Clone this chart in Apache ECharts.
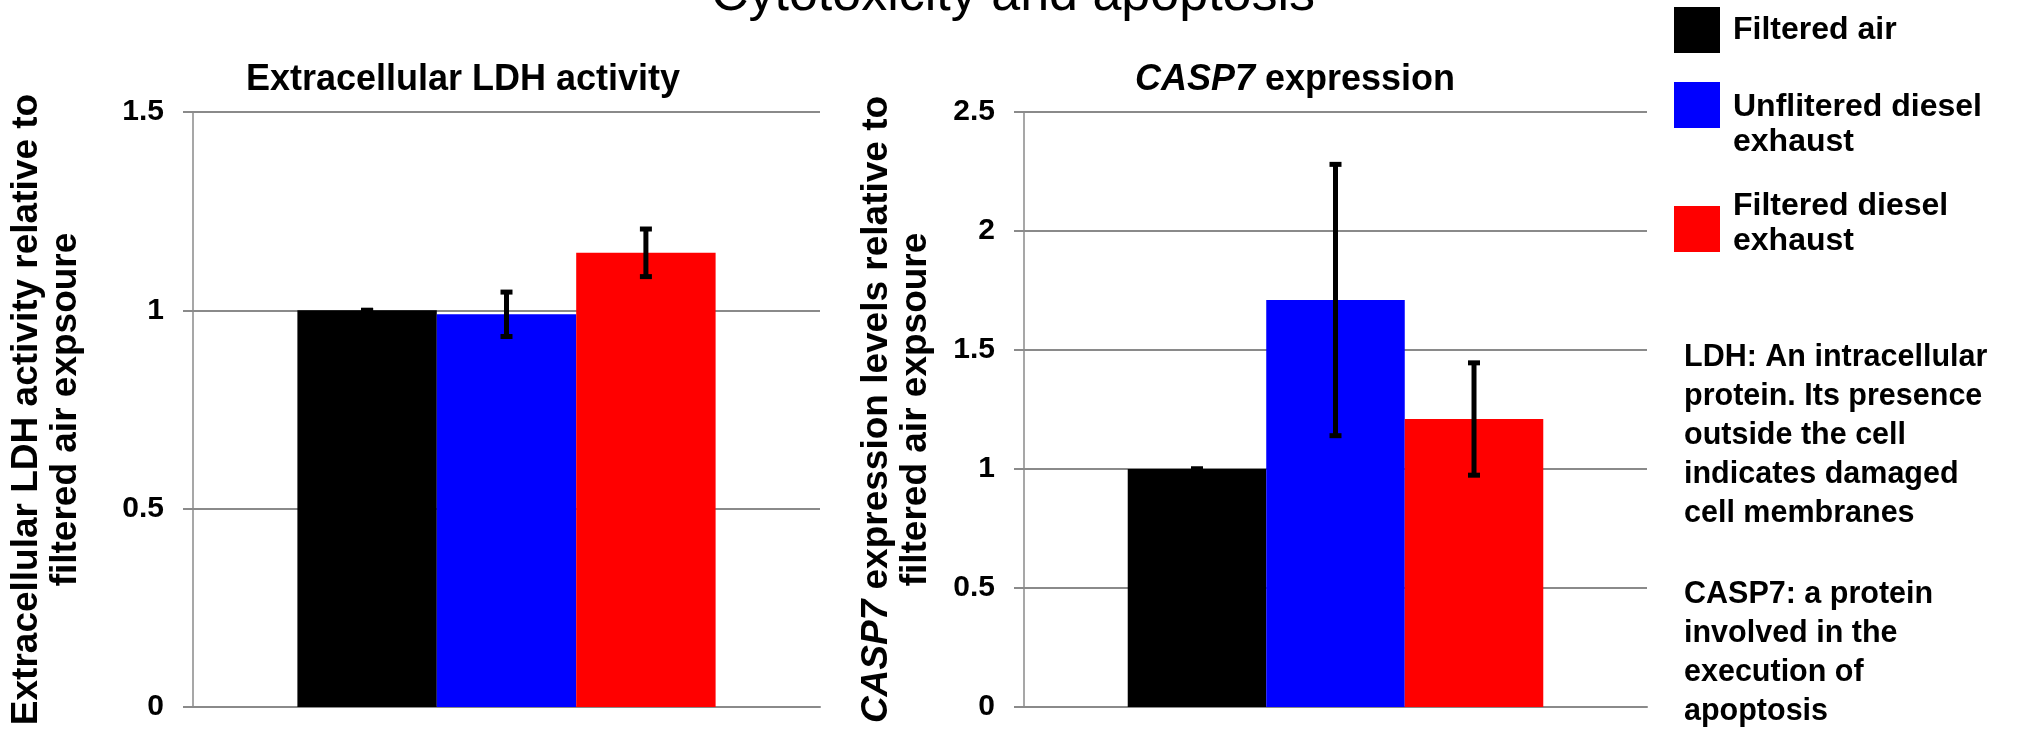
<!DOCTYPE html>
<html>
<head>
<meta charset="utf-8">
<title>Cytotoxicity and apoptosis</title>
<script src="https://cdn.jsdelivr.net/npm/echarts/dist/echarts.min.js"></script>
<style>
  html, body { margin: 0; padding: 0; background: #ffffff; }
  #chart { width: 2017px; height: 734px; }
</style>
</head>
<body>
<div id="chart"></div>
<script>
// Exposure groups, shared by both panels
const groups = ['Filtered air', 'Unflitered diesel exhaust', 'Filtered diesel exhaust'];
const groupColors = ['#000000', '#0000ff', '#ff0000'];

// Extracellular LDH activity (relative to filtered air), mean and error
const ldhMeans = [1.0, 0.99, 1.145];
const ldhErrors = [0, 0.056, 0.06];

// CASP7 expression (relative to filtered air), mean and error
const casp7Means = [1.0, 1.71, 1.21];
const casp7Errors = [0, 0.57, 0.236];

// Value axes: [max, step]
const ldhAxis = [1.5, 0.5];
const casp7Axis = [2.5, 0.5];

const FONT = '"Liberation Sans", Arial, sans-serif';
const GRID_GREY = '#8a8a8a';
const CATEGORY_GAP = 0.333;

const chart = echarts.init(document.getElementById('chart'), null, { renderer: 'canvas' });

function valueAxis(gridIndex, axis, name, nameGap) {
  return {
    type: 'value',
    gridIndex: gridIndex,
    min: 0,
    max: axis[0],
    interval: axis[1],
    name: name,
    nameLocation: 'middle',
    nameRotate: 90,
    nameGap: nameGap,
    nameTextStyle: {
      fontFamily: FONT, fontSize: 37, fontWeight: 'bold', color: '#000', lineHeight: 39,
      rich: { i: { fontFamily: FONT, fontSize: 37, fontWeight: 'bold', fontStyle: 'italic', color: '#000', lineHeight: 39 } }
    },
    axisLine: { show: true, lineStyle: { color: GRID_GREY, width: 1.5 } },
    axisTick: { show: true, length: 10, lineStyle: { color: GRID_GREY, width: 2 } },
    axisLabel: { margin: 29, fontFamily: FONT, fontSize: 30, fontWeight: 'bold', color: '#000' },
    splitLine: { show: true, lineStyle: { color: GRID_GREY, width: 2 } }
  };
}

function categoryAxis(gridIndex) {
  return {
    type: 'category',
    gridIndex: gridIndex,
    data: [''],
    axisLine: { show: true, lineStyle: { color: GRID_GREY, width: 2 } },
    axisTick: { show: false },
    axisLabel: { show: false }
  };
}

function barSeries(axisIndex, means) {
  return groups.map(function (name, k) {
    return {
      type: 'bar',
      name: name,
      xAxisIndex: axisIndex,
      yAxisIndex: axisIndex,
      data: [means[k]],
      barGap: '0%',
      barCategoryGap: (CATEGORY_GAP * 100) + '%',
      itemStyle: { color: groupColors[k] },
      emphasis: { disabled: true }
    };
  });
}

// Error bar glyph: vertical stroke with caps, centred on each bar of the group
function renderErrorBar(params, api) {
  const cat = api.value(0);
  const mean = api.value(1);
  const err = api.value(2);
  const k = api.value(3);
  const band = api.size([1, 0])[0];
  const barW = band * (1 - CATEGORY_GAP) / groups.length;
  const x = api.coord([cat, mean])[0] + (k - (groups.length - 1) / 2) * barW;
  const yTop = api.coord([cat, mean + err])[1];
  const yBot = api.coord([cat, mean - err])[1];
  const capHalf = 6;
  const style = { stroke: '#000', lineWidth: 5, fill: null };
  return {
    type: 'group',
    children: [
      { type: 'line', shape: { x1: x, y1: yTop, x2: x, y2: yBot }, style: style },
      { type: 'line', shape: { x1: x - capHalf, y1: yTop, x2: x + capHalf, y2: yTop }, style: style },
      { type: 'line', shape: { x1: x - capHalf, y1: yBot, x2: x + capHalf, y2: yBot }, style: style }
    ]
  };
}

function errorSeries(axisIndex, means, errors) {
  return {
    type: 'custom',
    xAxisIndex: axisIndex,
    yAxisIndex: axisIndex,
    z: 5,
    silent: true,
    renderItem: renderErrorBar,
    encode: { x: 0, y: 1 },
    data: means.map(function (m, k) { return [0, m, errors[k], k]; })
  };
}

// Legend swatches and side notes
const legendLayout = [
  { top: 7, textTop: 13, label: 'Filtered air' },
  { top: 82, textTop: 90, label: 'Unflitered diesel\nexhaust' },
  { top: 206, textTop: 189, label: 'Filtered diesel\nexhaust' }
];
const graphics = [];
legendLayout.forEach(function (item, k) {
  graphics.push({
    type: 'rect', left: 1674, top: item.top,
    shape: { width: 46, height: 46 },
    style: { fill: groupColors[k] }
  });
  graphics.push({
    type: 'text', x: 1733, y: item.textTop,
    style: {
      text: item.label, font: 'bold 32px ' + FONT, fill: '#000',
      lineHeight: 35, verticalAlign: 'top', align: 'left'
    }
  });
});
graphics.push({
  type: 'text', x: 1684, y: 338,
  style: {
    text: 'LDH: An intracellular\nprotein. Its presence\noutside the cell\nindicates damaged\ncell membranes',
    font: 'bold 30.5px ' + FONT, fill: '#000', lineHeight: 39, verticalAlign: 'top', align: 'left'
  }
});
graphics.push({
  type: 'text', x: 1684, y: 575,
  style: {
    text: 'CASP7: a protein\ninvolved in the\nexecution of\napoptosis',
    font: 'bold 30.5px ' + FONT, fill: '#000', lineHeight: 39, verticalAlign: 'top', align: 'left'
  }
});

const option = {
  animation: false,
  backgroundColor: '#ffffff',
  title: [
    {
      text: 'Cytotoxicity and apoptosis',
      left: 1013, top: -30, padding: 0, textAlign: 'center',
      textStyle: { fontFamily: FONT, fontSize: 52, fontWeight: 'normal', color: '#000' }
    },
    {
      text: 'Extracellular LDH activity',
      left: 463, top: 62, padding: 0, textAlign: 'center',
      textStyle: { fontFamily: FONT, fontSize: 36, fontWeight: 'bold', color: '#000' }
    },
    {
      text: '{i|CASP7} expression',
      left: 1295, top: 62, padding: 0, textAlign: 'center',
      textStyle: {
        fontFamily: FONT, fontSize: 36, fontWeight: 'bold', color: '#000',
        rich: { i: { fontFamily: FONT, fontSize: 36, fontWeight: 'bold', fontStyle: 'italic', color: '#000' } }
      }
    }
  ],
  grid: [
    { left: 193, top: 112, width: 627, height: 595 },
    { left: 1024, top: 112, width: 623, height: 595 }
  ],
  xAxis: [categoryAxis(0), categoryAxis(1)],
  yAxis: [
    valueAxis(0, ldhAxis, 'Extracellular LDH activity relative to\nfiltered air expsoure', 108),
    valueAxis(1, casp7Axis, '{i|CASP7} expression levels relative to\nfiltered air expsoure', 89)
  ],
  series: []
    .concat(barSeries(0, ldhMeans))
    .concat(barSeries(1, casp7Means))
    .concat([errorSeries(0, ldhMeans, ldhErrors), errorSeries(1, casp7Means, casp7Errors)]),
  graphic: graphics
};

chart.setOption(option);
</script>
</body>
</html>
